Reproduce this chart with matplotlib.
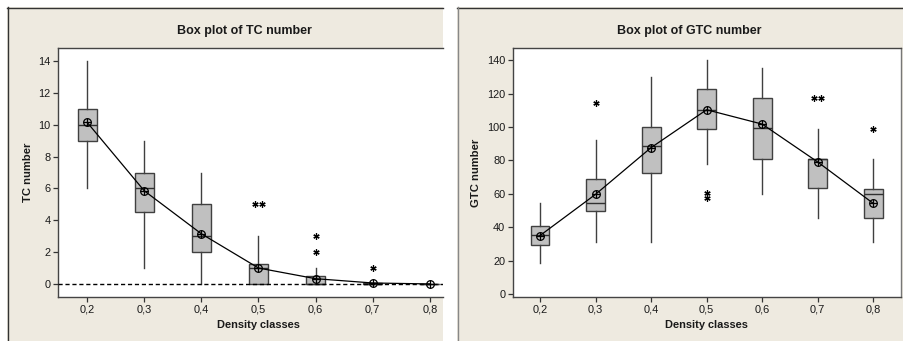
import matplotlib
matplotlib.use("Agg")
import matplotlib.pyplot as plt
from matplotlib.patches import Rectangle
from matplotlib.lines import Line2D

plt.rcParams['font.family'] = ['Liberation Sans', 'DejaVu Sans']

# ---------------- data ----------------
classes = ["0,2", "0,3", "0,4", "0,5", "0,6", "0,7", "0,8"]

tc_q1 = [9, 4.5, 2, 0, 0, 0, 0]
tc_med = [10, 6, 3, 1, 0, 0, 0]
tc_q3 = [11, 7, 5, 1.25, 0.5, 0.05, 0]
tc_wlo = [6, 1, 0, 0, 0, 0, 0]
tc_whi = [14, 9, 7, 3, 1, 0.05, 0]
tc_mean = [10.15, 5.85, 3.15, 1.0, 0.33, 0.06, 0.0]
tc_out = [[], [], [], [5, 5], [2, 3], [1], []]

gtc_q1 = [29.4, 49.5, 72.3, 99, 81.1, 63.3, 45.3]
gtc_med = [35.2, 54.5, 88.7, 110, 99.2, 81.1, 59.7]
gtc_q3 = [40.6, 69.1, 99.9, 122.8, 117.6, 81.1, 63.1]
gtc_wlo = [18.4, 31, 31, 77.7, 59.7, 45.3, 31]
gtc_whi = [54.3, 92.3, 130.2, 140.2, 135.2, 99, 80.9]
gtc_mean = [35, 59.7, 87.7, 110.4, 101.8, 79.1, 54.3]
gtc_out = [[], [114.3], [], [57.3, 60.3], [], [117.6, 117.6], [98.8]]

tc_ticks = [0, 2, 4, 6, 8, 10, 12, 14]
gtc_ticks = [0, 20, 40, 60, 80, 100, 120, 140]

# ---------------- figure ----------------
W, H = 904, 341
fig = plt.figure(figsize=(W / 100, H / 100), dpi=100, facecolor='white')

beige = '#EEEAE0'

def fx(px):
    return px / W

def fy(py):
    return 1 - py / H

# background panels
fig.patches.append(Rectangle((fx(7), 0), fx(443) - fx(7), fy(7), transform=fig.transFigure,
                             facecolor=beige, edgecolor='none', zorder=-10))
fig.patches.append(Rectangle((fx(457), 0), fx(904) - fx(457), fy(7), transform=fig.transFigure,
                             facecolor=beige, edgecolor='none', zorder=-10))
for xs, ys, c in [([fx(7), fx(443)], [fy(7.5), fy(7.5)], '#333333'),
                  ([fx(7.5), fx(7.5)], [0, fy(7)], '#333333'),
                  ([fx(457), fx(904)], [fy(7.5), fy(7.5)], '#333333'),
                  ([fx(457.5), fx(457.5)], [0, fy(7)], '#888888')]:
    fig.lines.append(Line2D(xs, ys, transform=fig.transFigure, color=c, lw=1, zorder=-9))

txt = '#1a1a1a'


def make_axes(x0, x1, y0, y1):
    return fig.add_axes([fx(x0), fy(y1), fx(x1) - fx(x0), fy(y0) - fy(y1)])


def draw(ax, q1, med, q3, wlo, whi, mean, outs, ticks, ylim, xlim, ylabel, width):
    pos = list(range(1, len(classes) + 1))
    stats = []
    for i in range(len(classes)):
        stats.append(dict(q1=q1[i], med=med[i], q3=q3[i], whislo=wlo[i], whishi=whi[i],
                          fliers=[], mean=mean[i]))
    ax.bxp(stats, positions=pos, widths=width, patch_artist=True, showcaps=False,
           showfliers=False, showmeans=False,
           boxprops=dict(facecolor='#c0c0c0', edgecolor='#404040', linewidth=1.0),
           whiskerprops=dict(color='#404040', linewidth=1.0),
           medianprops=dict(color='#303030', linewidth=1.0))
    ax.plot(pos, mean, '-', color='black', lw=0.9, zorder=5)
    ax.plot(pos, mean, 'o', mfc='none', mec='black', ms=5.5, mew=0.9, zorder=6)
    ax.plot(pos, mean, '+', color='black', ms=5.5, mew=0.9, zorder=6)
    # outliers, duplicates jittered side by side
    for p, vals in zip(pos, outs):
        seen = {}
        for v in vals:
            seen[v] = seen.get(v, 0) + 1
        for v, n in seen.items():
            if n == 1:
                xs = [p]
            else:
                xs = [p - 0.06 + 0.12 * k / (n - 1) for k in range(n)]
            ax.plot(xs, [v] * n, linestyle='none', marker=(6, 2, 0), color='black',
                    ms=4.5, mew=0.9, zorder=6)
    ax.set_xlim(*xlim)
    ax.set_ylim(*ylim)
    ax.set_xticks(pos)
    ax.set_xticklabels(classes)
    ax.set_yticks(ticks)
    ax.tick_params(direction='out', length=3.5, width=0.9, color='#333333',
                   labelsize=7.9, labelcolor=txt, pad=2)
    ax.set_xlabel('Density classes', fontsize=7.9, fontweight='bold', color=txt, va='center')
    ax.set_ylabel(ylabel, fontsize=8.1, fontweight='bold', color=txt, va='center')
    for s in ax.spines.values():
        s.set_color('#444444')
        s.set_linewidth(1.0)


# left panel (cut on its right side)
ax1 = make_axes(58, 443, 48, 297)
draw(ax1, tc_q1, tc_med, tc_q3, tc_wlo, tc_whi, tc_mean, tc_out, tc_ticks,
     (-0.82, 14.82), (0.49, 7.23), 'TC number', 0.33)
ax1.axhline(0, color='black', lw=1.0, ls=(0, (3, 2)), zorder=4)
ax1.spines['right'].set_visible(False)
ax1.xaxis.set_label_coords((258 - 58) / 385, (297 - 325) / 249)
ax1.yaxis.set_label_coords((28 - 58) / 385, 0.5)

# right panel
ax2 = make_axes(513, 901, 48, 297)
draw(ax2, gtc_q1, gtc_med, gtc_q3, gtc_wlo, gtc_whi, gtc_mean, gtc_out, gtc_ticks,
     (-1.8, 147.4), (0.514, 7.5), 'GTC number', 0.34)
ax2.spines['right'].set_color('#777777')
ax2.xaxis.set_label_coords((706 - 513) / 388, (297 - 325) / 249)
ax2.yaxis.set_label_coords((476 - 513) / 388, 0.5)

fig.text(fx(244), fy(31), 'Box plot of TC number', ha='center', va='center',
         fontsize=9.0, fontweight='bold', color=txt)
fig.text(fx(689), fy(31), 'Box plot of GTC number', ha='center', va='center',
         fontsize=9.0, fontweight='bold', color=txt)

fig.savefig('out.png', dpi=100, facecolor='white')
